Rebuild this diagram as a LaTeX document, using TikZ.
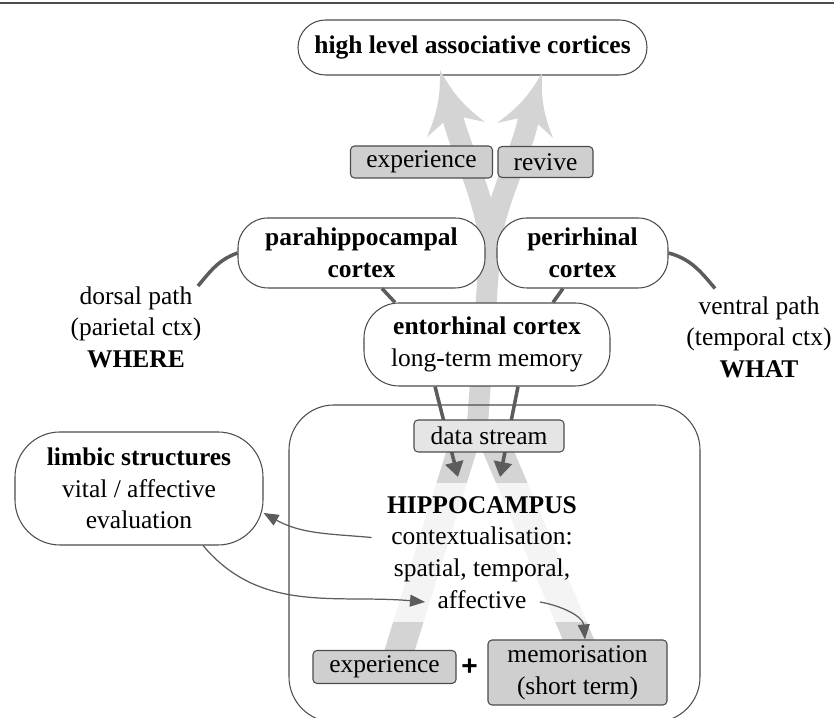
\documentclass[tikz,border=0pt]{standalone}
\usepackage{fontspec}
\setmainfont{Liberation Serif}
\setsansfont{Liberation Sans}
\usetikzlibrary{arrows.meta}
\definecolor{bandgray}{gray}{0.83}
\definecolor{taggray}{gray}{0.81}
\definecolor{datagray}{gray}{0.9}
\definecolor{linkgray}{gray}{0.36}
\definecolor{edgegray}{gray}{0.3}
\tikzset{
	cortexbox/.style={draw=edgegray, line width=0.6pt, fill=white, align=center, inner sep=0pt, rounded corners=#1},
	cortexbox/.default=0.6cm,
	tagbox/.style={draw=edgegray, line width=0.6pt, fill=taggray, align=center, inner sep=0pt, rounded corners=0.8mm},
	linkline/.style={draw=linkgray, line width=2pt},
	thickflow/.style={linkgray, line width=2pt, -{Triangle[length=3mm,width=3.6mm]}},
	thinflow/.style={linkgray, line width=0.7pt, -{Triangle[length=3mm,width=2.4mm]}},
	stream/.style={draw=bandgray, line width=#1}
}

\begin{document}
\begin{tikzpicture}[every node/.style={font=\fontsize{14.5}{18}\selectfont}]
			\useasboundingbox (0,0) rectangle (16.68,14.36);

			% Rule on top
			\draw[edgegray, line width=0.6pt] (0,14.30) -- (16.68,14.30);

			\node[cortexbox=0.55cm, minimum width=6.98cm, minimum height=1.1cm] (high) at (9.45,13.41) {\bfseries high level associative cortices};

			% Draw the two streams
			\draw[stream=0.58cm] (7.90,1.06) -- (9.30,5.56);
			\draw[stream=0.58cm] (11.70,1.26) -- (9.87,5.56);
			\draw[stream=0.42cm] (9.52,5.46) -- (9.78,9.12);
			\draw[stream=0.42cm] (9.78,9.12) .. controls (9.88,10.06) and (9.24,11.26) .. (9.04,12.06);
			\draw[stream=0.42cm] (9.78,9.12) .. controls (9.76,10.06) and (10.48,11.36) .. (10.58,12.04);
			\fill[bandgray] (8.80,12.96) to[bend right=12] (9.70,11.92) -- (9.04,12.06) -- (8.54,11.62) to[bend right=12] cycle;
			\fill[bandgray] (10.84,12.90) to[bend right=12] (11.06,11.60) -- (10.58,12.04) -- (9.94,11.90) to[bend right=12] cycle;

			% Cortical areas
			\node[tagbox, minimum width=2.84cm, minimum height=0.64cm] (expA) at (8.43,11.12) {experience};
			\node[tagbox, minimum width=1.90cm, minimum height=0.62cm] (revive) at (10.91,11.12) {revive};
			\node[cortexbox, minimum width=4.94cm, minimum height=1.4cm] (para) at (7.23,9.30) {\bfseries parahippocampal\\\bfseries cortex};
			\node[cortexbox, minimum width=3.42cm, minimum height=1.4cm] (peri) at (11.65,9.30) {\bfseries perirhinal\\\bfseries cortex};
			\node[cortexbox=0.7cm, minimum width=4.92cm, minimum height=1.66cm] (ento) at (9.74,7.47) {\textbf{entorhinal cortex}\\long-term memory};
			\node[align=center, inner sep=0pt] (dorsal) at (2.72,7.82) {dorsal path\\(parietal ctx)\\\textbf{WHERE}};
			\node[align=center, inner sep=0pt] (ventral) at (15.18,7.62) {ventral path\\(temporal ctx)\\\textbf{WHAT}};

			\draw[linkline] ([xshift=12.4mm]dorsal.north) to[out=50, in=200] (para.west);
			\draw[linkline] (peri.east) to[out=-15, in=130] ([xshift=-8.8mm, yshift=1.5mm]ventral.north);
			\draw[linkline] ([xshift=4.1mm]para.south) -- ([xshift=-18.4mm]ento.north);
			\draw[linkline] ([xshift=-3.9mm]peri.south) -- ([xshift=13.2mm]ento.north);

			% Hippocampus
			\node[draw=edgegray, line width=0.6pt, rounded corners=0.9cm, minimum width=8.22cm, minimum height=6.34cm] (hip) at (9.89,3.09) {};
			\coordinate (inL) at (9.16,4.82);
			\coordinate (inR) at (10.00,4.82);
			\draw[thickflow] ([xshift=-10.4mm]ento.south) -- (inL);
			\draw[thickflow] ([xshift=6.2mm]ento.south) -- (inR);
			\node[tagbox, fill=datagray, minimum width=3cm, minimum height=0.64cm] (data) at (9.78,5.64) {data stream};

			\node[fill=white, fill opacity=0.75, text opacity=1, align=center, inner sep=0pt, minimum width=4.4cm, minimum height=2.78cm] (hiptext) at (9.64,3.31) {\textbf{HIPPOCAMPUS}\\contextualisation:\\spatial, temporal,\\affective};
			\node[cortexbox=0.9cm, minimum width=4.96cm, minimum height=2.26cm] (limbic) at (2.78,4.59) {\textbf{limbic structures}\\vital / affective\\evaluation};
			\node[tagbox, minimum width=2.86cm, minimum height=0.66cm] (expB) at (7.69,1.02) {experience};
			\node[inner sep=0pt, font=\fontsize{16}{18}\sffamily\bfseries] (plus) at (9.39,1.02) {+};
			\node[tagbox, minimum width=3.58cm, minimum height=1.3cm] (memo) at (11.55,0.91) {memorisation\\(short term)};

			% Evaluation loop
			\coordinate (affin) at (8.50,2.32);
			\coordinate (affout) at (10.80,2.32);
			\draw[thinflow] ([yshift=3mm]hiptext.west) to[out=175, in=-29] ([yshift=-4.9mm]limbic.east);
			\draw[thinflow] ([xshift=12.8mm]limbic.south) to[out=-50, in=175] (affin);
			\draw[thinflow] (affout) to[out=-10, in=95] ([xshift=1.5mm]memo.north);
		\end{tikzpicture}
\end{document}
